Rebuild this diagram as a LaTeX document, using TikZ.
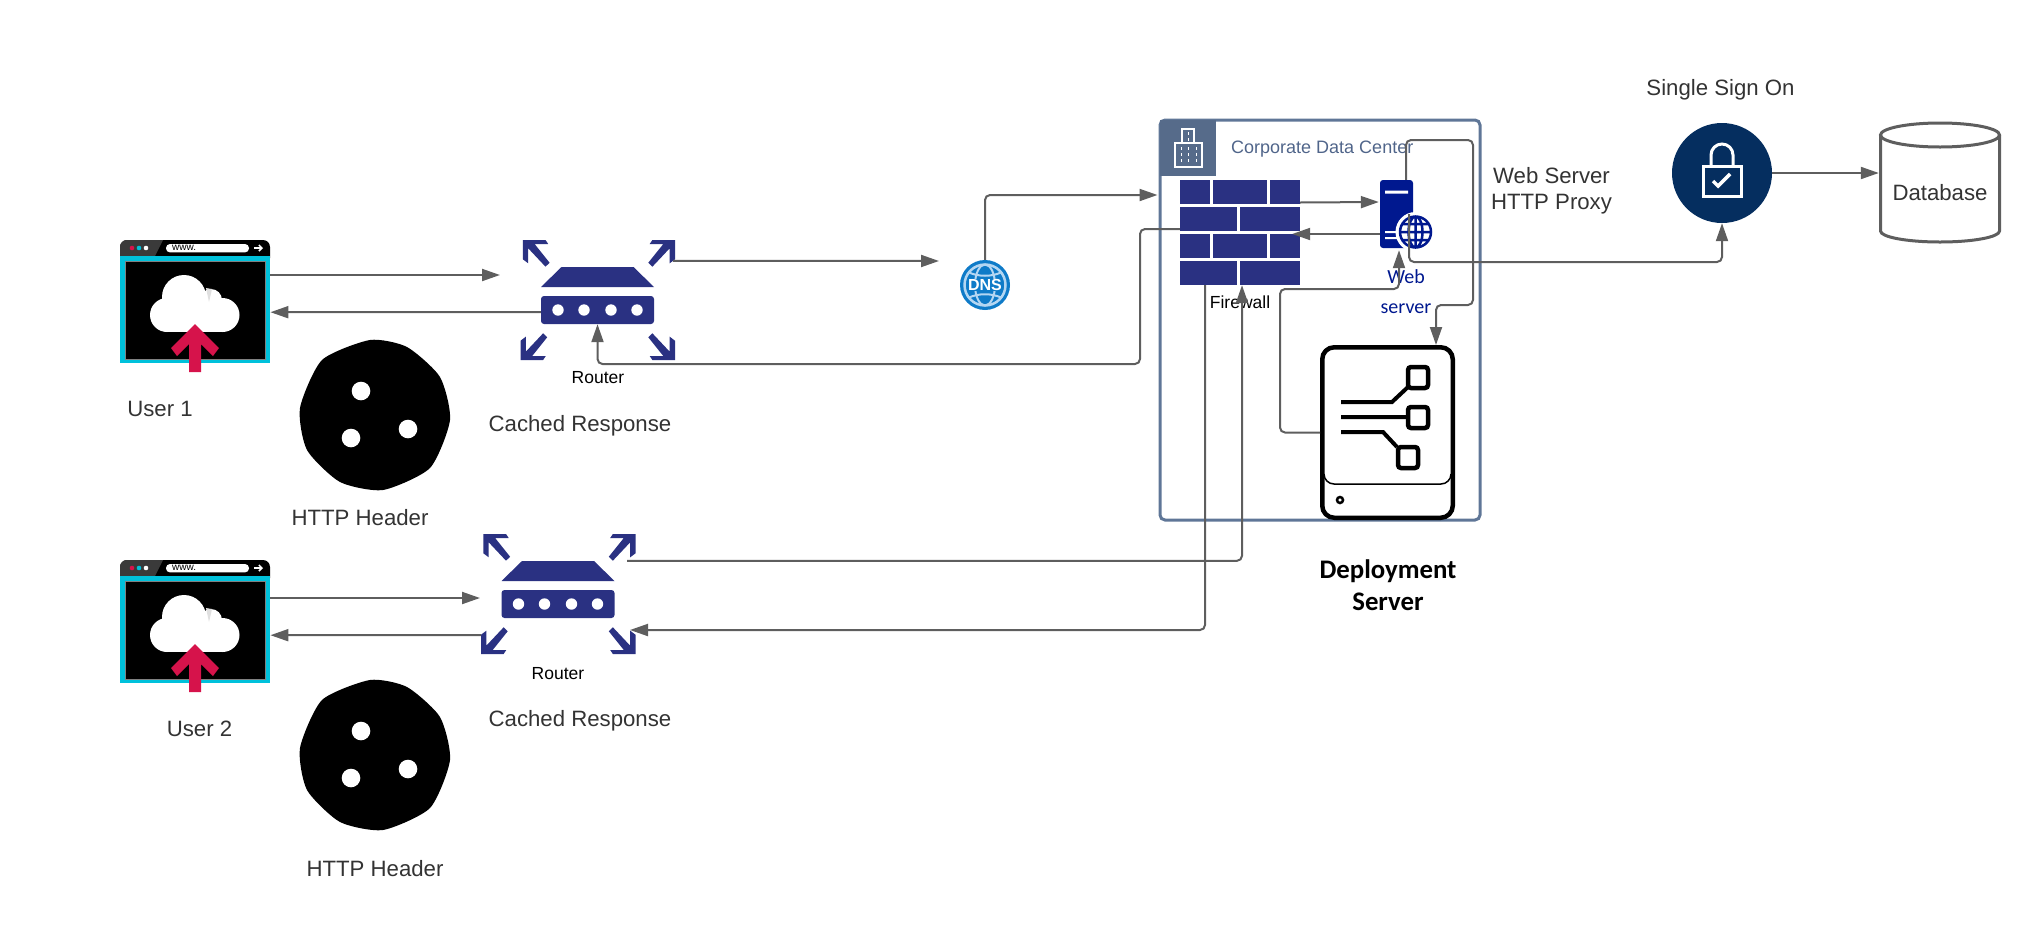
\documentclass[tikz,border=0pt]{standalone}
\usepackage{fontspec}
\setmainfont{Liberation Sans}
\newfontfamily\carlito{Carlito}
\usepackage{tikz}
\usetikzlibrary{positioning, arrows.meta, shapes.geometric, calc}
\definecolor{LinkGray}{HTML}{5E5E5E}
\definecolor{TextGray}{HTML}{333333}
\definecolor{RouterBlue}{HTML}{2A3182}
\definecolor{ServerBlue}{HTML}{00188F}
\definecolor{FrameSlate}{HTML}{5F7697}
\definecolor{HeadSlate}{HTML}{566B8A}
\definecolor{LabelSlate}{HTML}{50658A}
\definecolor{LockNavy}{HTML}{052E5F}
\definecolor{DnsBlue}{HTML}{0F7BC8}
\definecolor{DnsPale}{HTML}{B4D6F2}
\definecolor{WebCyan}{HTML}{00C1DB}
\definecolor{WebRed}{HTML}{D6134B}
\definecolor{BarDark}{HTML}{3A3A3A}
\tikzset{
  link/.style={draw=LinkGray, line width=2pt, rounded corners=5pt,
               -{Triangle[length=18pt, width=12pt]}},
  caption/.style={font=\fontsize{22.2}{26}\selectfont, text=TextGray, inner sep=0pt},
  smallcap/.style={font=\fontsize{17.5}{20}\selectfont, text=black, inner sep=0pt},
  srvcap/.style={font=\carlito\fontsize{20}{30}\selectfont, text=ServerBlue, inner sep=0pt},
  depcap/.style={font=\carlito\bfseries\fontsize{26.8}{32}\selectfont, text=black, inner sep=0pt},
  browserpic/.pic={
    \node (-frame) [anchor=north west, inner sep=0pt, minimum width=150pt, minimum height=123pt] at (0,0) {};
    \fill[black, rounded corners=7pt] (0,25) -- (0,0) -- (150,0) -- (150,25) -- cycle;
    \fill[BarDark] (0,25) [rounded corners=7pt] -- (0,0) [sharp corners] -- (43,0) -- (35,16) -- (35,25) -- cycle;
    \fill[WebCyan] (0,16) rectangle (150,123);
    \fill[black] (5,21) rectangle (145,119);
    \draw[gray, line width=0.8pt] (5,21) rectangle (145,119);
    \foreach \dx/\dc in {12/WebRed, 19/WebCyan, 26/white}
      \fill[\dc] (\dx,8) circle (2.3);
    \fill[white, rounded corners=4pt] (46,4) rectangle (129,12.4);
    \node (-url) [anchor=west, inner sep=0pt, font=\fontsize{10}{10}\selectfont] at (52,8) {www.};
    \draw[white, line width=1.5pt, -{Straight Barb[length=3pt, width=6pt]}] (134,8) -- (143,8);
    \fill[white] (47,75) circle (17) (64,57) circle (22) (91,60) circle (11) (102.5,75) circle (17);
    \fill[white] (47,62) rectangle (102.5,92);
    \fill[black!12] (86,48) -- (92,49) -- (89,62) -- cycle;
    \fill[WebRed] (75,84) -- (99,108) -- (93,116) -- (81,104) -- (81,132) -- (69,132) -- (69,104) -- (57,116) -- (51,108) -- cycle;
  },
  routerpic/.pic={
    \node (-box) [fill=RouterBlue, rounded corners=3pt, inner sep=0pt, minimum width=113pt, minimum height=28pt] at (0,14) {};
    \fill[RouterBlue] (-36,-29) -- (36,-29) -- (56.5,-9) -- (-56.5,-9) -- cycle;
    \foreach \dx in {-39.5, -13.5, 13.5, 39.5}
      \fill[white] (\dx,14) circle (5.7);
    \foreach \cx/\cy/\sx/\sy in {-74.6/-56/1/1, 77.5/-56/-1/1, -77/64/1/-1, 77.5/64/-1/-1}
      \fill[RouterBlue, shift={(\cx,\cy)}, xscale=\sx, yscale=\sy]
        (0,0) -- (22.6,0) -- (25.3,4) -- (11.7,4) -- (26.7,22.7) -- (22.6,26.7) -- (5.3,8.3) -- (5.3,23.3) -- (0,19.3) -- cycle;
  },
  blobpic/.pic={
    \fill[black] plot[smooth cycle, tension=0.4] coordinates {(-5,-75) (32,-68) (65,-38) (75,5) (55,53) (8,75) (-35,67) (-68,35) (-75,-7) (-53,-55)};
    \foreach \dx/\dy in {-14/-24, 33/14, -24/23}
      \fill[white] (\dx,\dy) circle (9.3);
  }
}

\begin{document}
\begin{tikzpicture}[x=1pt, y=-1pt]
  \useasboundingbox (0,0) rectangle (2040,940);

  \pic (userone) at (120,240) {browserpic};
  \pic (usertwo) at (120,560) {browserpic};
  \pic (rtone) at (597.5,296) {routerpic};
  \pic (rttwo) at (558,590) {routerpic};
  \pic (blobone) at (375,415) {blobpic};
  \pic (blobtwo) at (375,755) {blobpic};

  \node (lblone) [caption] at (160,408.5) {User 1};
  \node (lbltwo) [caption] at (199.5,729) {User 2};
  \node (hdrone) [caption] at (360,518) {HTTP Header};
  \node (hdrtwo) [caption] at (375,869) {HTTP Header};
  \node (cacheone) [caption] at (580,425.5) {Cached Response};
  \node (cachetwo) [caption] at (580,721) {Cached Response};
  \node (rtlblone) [smallcap] at (598,378) {Router};
  \node (rtlbltwo) [smallcap] at (558,674) {Router};

  \node (dns) [circle, fill=DnsBlue, inner sep=0pt, minimum size=50pt] at (985,285) {};
  \draw[DnsPale, line width=2.5pt] (985,285) circle (20.5);
  \draw[DnsPale, line width=2pt] (985,285) ellipse (10 and 20.5);
  \draw[DnsPale, line width=2pt] (968,272) .. controls (978,277) and (992,277) .. (1002,272) (968,298) .. controls (978,293) and (992,293) .. (1002,298);
  \node (dnstxt) [fill=DnsBlue, inner xsep=1pt, inner ysep=0.5pt, text=white, font=\bfseries\fontsize{16}{16}\selectfont] at (985,285) {DNS};

  \node (dc) [draw=FrameSlate, line width=3pt, rounded corners=5pt, minimum width=320pt, minimum height=400pt, inner sep=0pt] at (1320,320) {};
  \node (dchead) [fill=HeadSlate, minimum size=56pt, inner sep=0pt] at (1188,148) {};
  \draw[white, line width=1.2pt] (1175,167) rectangle (1202,143) (1182,143) rectangle (1194,129);
  \foreach \dx in {1181,1188.5,1196}
    \draw[white, line width=1pt, dash pattern=on 3pt off 3pt] (\dx,147) -- (\dx,165);
  \draw[white, line width=1pt, dash pattern=on 3pt off 3pt] (1188,132) -- (1188,143);
  \node (dclbl) [anchor=west, inner sep=0pt, text=LabelSlate, font=\fontsize{18}{20}\selectfont] at (1231,149) {Corporate Data Center};

  \node (firewall) [fill=RouterBlue, minimum width=120pt, minimum height=105pt, inner sep=0pt] at (1240,232.5) {};
  \draw[white, line width=3pt] (1180,205.5) -- (1300,205.5) (1180,232.5) -- (1300,232.5) (1180,259.5) -- (1300,259.5);
  \foreach \dy in {180,234}
    \draw[white, line width=3pt] (1211.5,\dy) -- (1211.5,\dy+24) (1268.5,\dy) -- (1268.5,\dy+24);
  \foreach \dy in {207,261}
    \draw[white, line width=3pt] (1238.5,\dy) -- (1238.5,\dy+24);
  \node (fwlbl) [smallcap] at (1240,302.5) {Firewall};

  \node (websrv) [fill=ServerBlue, rounded corners=3pt, minimum width=33pt, minimum height=68pt, inner sep=0pt] at (1396.5,214) {};
  \fill[white] (1385,190.5) rectangle (1408,193.5) (1385,231) rectangle (1399,233) (1385,237) rectangle (1399,239);
  \node (webglobe) [circle, fill=white, minimum size=40pt, inner sep=0pt] at (1415.5,232) {};
  \draw[ServerBlue, line width=2.5pt] (1415.5,232) circle (15.5) (1415.5,232) ellipse (7 and 15.5) (1415.5,216.5) -- (1415.5,247.5) (1400,232) -- (1431,232) (1402.5,224) -- (1428.5,224) (1402.5,240) -- (1428.5,240);
  \node (weblbl) [srvcap, align=center] at (1406,292) {Web\\server};

  \node (depsrv) [draw=black, line width=4.5pt, rounded corners=12pt, minimum width=130.5pt, minimum height=170.5pt, inner sep=0pt] at (1387.5,432.5) {};
  \draw[black, line width=1.5pt, rounded corners=10pt] (1324,474) -- (1324,484) -- (1451,484) -- (1451,474);
  \draw[black, line width=2.5pt] (1340,500) circle (3);
  \draw[black, line width=4pt] (1341,402) -- (1392,402) -- (1408,387) (1341,417) -- (1407,417) (1341,432) -- (1383,432) -- (1397,447);
  \draw[black, line width=4.5pt, rounded corners=3pt] (1408,367) rectangle (1428,388) (1408,407) rectangle (1428,428) (1398,447) rectangle (1418,468);
  \node (deplbl) [depcap, align=center] at (1388,585) {Deployment\\Server};

  \node (proxylbl) [caption, align=center] at (1551.5,191) {Web Server\\HTTP Proxy};
  \node (ssolbl) [caption] at (1720.5,90) {Single Sign On};
  \node (sso) [circle, fill=LockNavy, minimum size=100pt, inner sep=0pt] at (1722,173) {};
  \draw[white, line width=3pt] (1703,166) rectangle (1741,196);
  \draw[white, line width=3pt] (1711,166) -- (1711,155) arc[start angle=180, end angle=0, radius=11pt] -- (1733,166);
  \draw[white, line width=3.5pt] (1713,181) -- (1718,186) -- (1730,174);
  \node (database) [minimum width=122pt, minimum height=120pt, inner sep=0pt] at (1940,183) {};
  \draw[LinkGray, line width=3pt] (1940,135) ellipse (59.5 and 12);
  \draw[LinkGray, line width=3pt] (1880.5,135) -- (1880.5,231) arc[start angle=180, end angle=360, x radius=59.5pt, y radius=11pt] -- (1999.5,135);
  \node (dblbl) [caption] at (1940,193) {Database};

  \coordinate (rtonein) at (500,275);
  \coordinate (dnsin) at (939,261);
  \coordinate (rttwoin) at (480,598);
  \coordinate (rttwoback) at (630,630);
  \draw[link] ([yshift=-35pt]userone-frame.north east) -- (rtonein);
  \draw[link] ([yshift=-2pt]rtone-box.west) -- ([yshift=-10.5pt]userone-frame.east);
  \draw[link] ([xshift=19pt, yshift=35pt]rtone-box.north east) -- (dnsin);
  \draw[link] (dns.north) |- ([xshift=-1pt, yshift=125pt]dc.west);
  \draw[link] ([yshift=3.5pt]firewall.west) -| (1140,364) -| (rtone-box.south);
  \draw[link] ([yshift=30pt]firewall.east) -- ([xshift=-1pt, yshift=12pt]websrv.west);
  \draw[link] ([yshift=-20pt]websrv.west) -- ([xshift=-8pt, yshift=-1.5pt]firewall.east);
  \draw[link] ([xshift=9.5pt]websrv.north) |- (1473,140) |- (1436,305) -- ([xshift=48.5pt]depsrv.north);
  \draw[link] ([xshift=12.5pt]websrv.center) |- (1722,262) -- (sso.south);
  \draw[link] (depsrv.west) -| (1280,289) -| ([xshift=2.5pt, yshift=-2pt]websrv.south);
  \draw[link] ([xshift=69pt, yshift=29pt]rttwo-box.north) -| ([xshift=2pt]firewall.south);
  \draw[link] ([xshift=-35pt]firewall.south) |- (rttwoback);
  \draw[link] ([yshift=-38pt]usertwo-frame.north east) -- (rttwoin);
  \draw[link] (481,635) -- ([yshift=-13.5pt]usertwo-frame.east);
  \draw[link] (sso.east) -- (database.west |- sso.east);
\end{tikzpicture}
\end{document}
